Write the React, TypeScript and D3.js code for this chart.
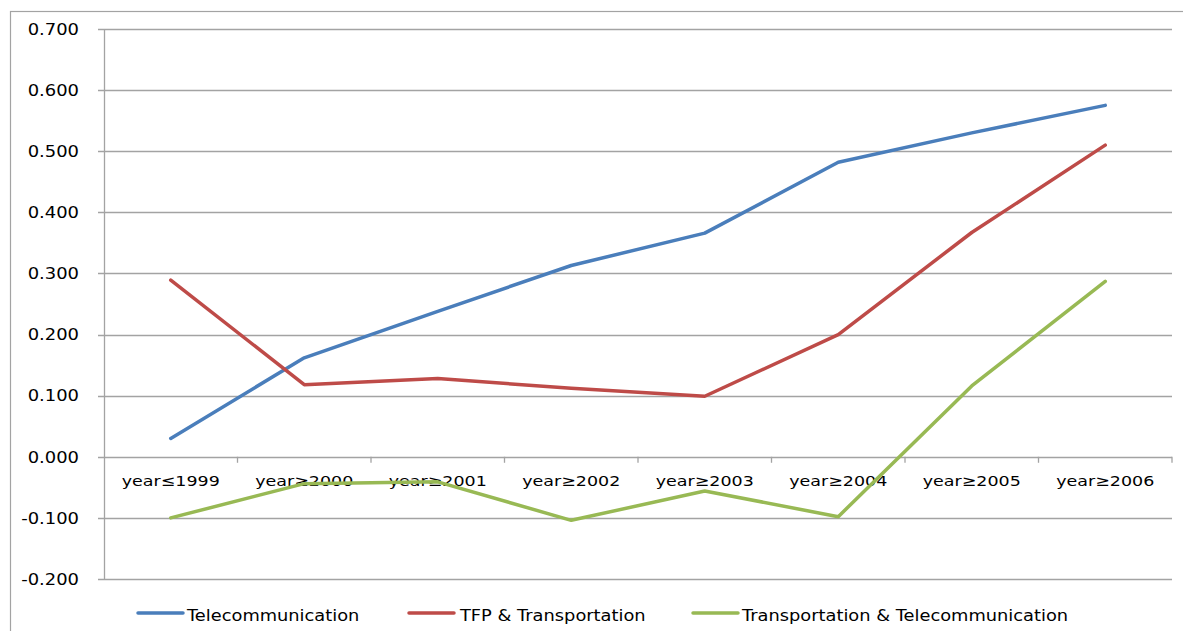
import React from "react";
import * as d3 from "d3";

const categories = ["year≤1999", "year≥2000", "year≥2001", "year≥2002", "year≥2003", "year≥2004", "year≥2005", "year≥2006"];
const telecom = [0.03, 0.162, 0.238, 0.313, 0.366, 0.482, 0.53, 0.575];
const tfpTransport = [0.289, 0.118, 0.128, 0.112, 0.099, 0.2, 0.367, 0.51];
const transTelecom = [-0.1, -0.044, -0.041, -0.104, -0.056, -0.098, 0.116, 0.287];
const yTicks = [-0.2, -0.1, 0, 0.1, 0.2, 0.3, 0.4, 0.5, 0.6, 0.7];

const seriesNames = ["Telecommunication", "TFP & Transportation", "Transportation & Telecommunication"];
const seriesColors = ["#4a7ebb", "#be4b48", "#98b954"];
const seriesData = [telecom, tfpTransport, transTelecom];

const W = 1183;
const H = 631;
const L = 104;
const R = 1172;
const T = 29;
const B = 579;
const FONT = "'DejaVu Sans', Verdana, sans-serif";
const SX = 1.18;
const GRID = "#a3a3a3";

export default function App() {
  const x = d3.scaleBand<string>().domain(categories).range([L, R]).paddingInner(0).paddingOuter(0);
  const y = d3.scaleLinear().domain([-0.2, 0.7]).range([B, T]);
  const cx = (c: string) => (x(c) as number) + x.bandwidth() / 2;
  const line = d3
    .line<number>()
    .x((_, i) => cx(categories[i]))
    .y((d) => y(d));

  const legendItems = [
    { lx: 138, tx: 187 },
    { lx: 409, tx: 460 },
    { lx: 693, tx: 742 },
  ];

  return (
    <svg width={W} height={H} style={{ position: "absolute", left: 0, top: 0, background: "#fff" }}>
      <rect x={10.5} y={11.5} width={W + 10} height={H + 10} fill="#fff" stroke={GRID} strokeWidth={1.2} />
      {/* gridlines */}
      {yTicks.map((t) => (
        <line key={"g" + t} x1={98} x2={R} y1={Math.round(y(t)) + 0.5} y2={Math.round(y(t)) + 0.5} stroke={GRID} strokeWidth={1.3} />
      ))}
      {/* y axis */}
      <line x1={L + 0.5} x2={L + 0.5} y1={T} y2={B} stroke={GRID} strokeWidth={1.3} />
      {/* x ticks at zero line */}
      {categories.map((c, i) => {
        const bx = (x(c) as number) + x.bandwidth();
        return <line key={"xt" + i} x1={bx} x2={bx} y1={y(0)} y2={y(0) + 6} stroke={GRID} strokeWidth={1.3} />;
      })}
      {/* y labels */}
      {yTicks.map((t) => (
        <text
          key={"yl" + t}
          transform={`translate(79,${y(t) + 5.8}) scale(${SX},1)`}
          textAnchor="end"
          fontFamily={FONT}
          fontSize={15.2}
          fill="#000"
        >
          {d3.format(".3f")(t).replace("−", "-")}
        </text>
      ))}
      {/* x labels */}
      {categories.map((c) => (
        <text
          key={"xl" + c}
          transform={`translate(${cx(c)},486) scale(${SX},1)`}
          textAnchor="middle"
          fontFamily={FONT}
          fontSize={14.8}
          fill="#000"
        >
          {c}
        </text>
      ))}
      {/* series */}
      {seriesData.map((s, i) => (
        <path key={"s" + i} d={line(s) as string} fill="none" stroke={seriesColors[i]} strokeWidth={3.5} strokeLinejoin="round" strokeLinecap="round" />
      ))}
      {/* legend */}
      {seriesNames.map((n, i) => (
        <g key={"lg" + i}>
          <line x1={legendItems[i].lx} x2={legendItems[i].lx + 45} y1={613} y2={613} stroke={seriesColors[i]} strokeWidth={3.5} strokeLinecap="round" />
          <text transform={`translate(${legendItems[i].tx},621) scale(${SX},1)`} fontFamily={FONT} fontSize={15.1} fill="#000">
            {n}
          </text>
        </g>
      ))}
    </svg>
  );
}
